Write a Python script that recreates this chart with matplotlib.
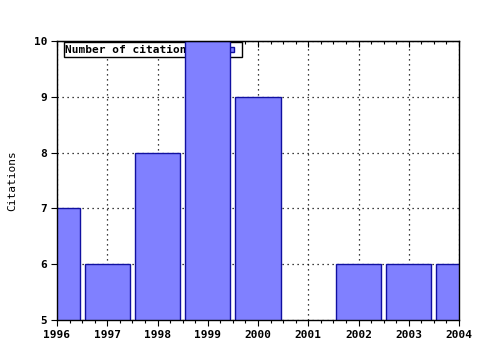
import matplotlib
matplotlib.use("Agg")
import matplotlib.pyplot as plt
from matplotlib.patches import Rectangle
from matplotlib.legend_handler import HandlerPatch
from matplotlib.ticker import MultipleLocator

years = [1996, 1997, 1998, 1999, 2000, 2001, 2002, 2003, 2004]
citations = [7, 6, 8, 10, 9, 0, 6, 6, 6]

plt.rcParams["font.family"] = "DejaVu Sans Mono"
plt.rcParams["font.weight"] = "bold"
plt.rcParams["font.size"] = 8

fig = plt.figure(figsize=(4.8, 3.5), dpi=100)
ax = fig.add_axes([57 / 480, 30 / 350, 402 / 480, 279 / 350])

bars = ax.bar(years, citations, width=0.9, color="#8080ff", edgecolor="#1010a0",
              linewidth=1.0, zorder=2)

ax.set_xlim(1996, 2004)
ax.set_ylim(5, 10)
ax.xaxis.set_major_locator(MultipleLocator(1))
ax.xaxis.set_minor_locator(MultipleLocator(0.25))
ax.yaxis.set_major_locator(MultipleLocator(1))
ax.grid(True, which="major", color="black", linestyle=(0, (1, 3)), linewidth=0.9)
ax.set_axisbelow(True)

ax.tick_params(axis="x", which="both", direction="out", top=False, length=4, width=0.8, pad=3)
ax.tick_params(axis="x", which="minor", length=2)
ax.tick_params(axis="y", direction="out", right=False, length=4, width=0.8, pad=3)

top = ax.secondary_xaxis("top")
top.xaxis.set_major_locator(MultipleLocator(1))
top.xaxis.set_minor_locator(MultipleLocator(0.25))
top.tick_params(which="both", direction="in", labeltop=False, length=4, width=0.8)
top.tick_params(which="minor", length=2)

ax.set_ylabel("Citations")
ax.yaxis.set_label_coords(-40 / 402, 0.5)

for s in ax.spines.values():
    s.set_linewidth(1.0)
    s.set_color("black")


def small_square(legend, orig_handle, xdescent, ydescent, width, height, fontsize):
    # small swatch at the left of a wider handle box
    side = 3.6
    return Rectangle((-xdescent, -ydescent + (height - side) / 2), side, side)


leg = ax.legend([bars.patches[0]], ["Number of citations"], loc="upper left",
                bbox_to_anchor=(7 / 402, 278 / 279), markerfirst=False,
                fancybox=False, framealpha=1, edgecolor="black", borderpad=0.12,
                handlelength=1.0, handleheight=1.3, handletextpad=3.2, borderaxespad=0,
                handler_map={Rectangle: HandlerPatch(patch_func=small_square)})
leg.get_frame().set_linewidth(1.0)
leg.set_zorder(1.5)

fig.savefig("out.png", dpi=100)
